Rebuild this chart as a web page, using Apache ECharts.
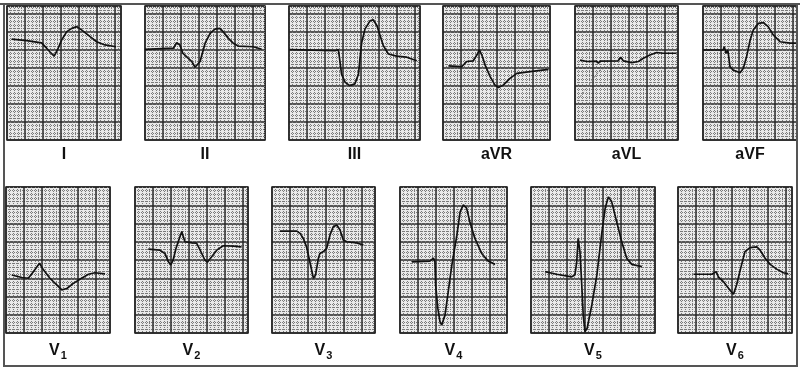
<!DOCTYPE html>
<html>
<head>
<meta charset="utf-8">
<script src="https://cdn.jsdelivr.net/npm/echarts@6/dist/echarts.min.js"></script>
<style>
html,body{margin:0;padding:0;background:#fff;}
#c{width:800px;height:370px;}
</style>
</head>
<body>
<div id="c"></div>
<script>
// ECG traces: [time (mm of paper), amplitude (mm of paper)]
const leadI = [[1.3,28.0],[5.5,27.6],[9.6,27.0],[11.0,25.5],[11.9,24.5],[13.1,23.3],[14.0,25.0],[15.2,27.8],[16.6,30.1],[18.0,31.0],[19.4,31.5],[20.7,30.6],[23.1,28.7],[24.9,27.3],[27.2,26.4],[30.3,25.9]];
const leadII = [[0,25.2],[7.9,25.5],[8.8,27.0],[9.7,26.4],[10.5,24.1],[11.6,23.1],[13.0,21.8],[13.9,20.2],[14.4,19.9],[15.3,21.8],[16.7,26.9],[18.1,29.6],[19.4,30.8],[20.8,31.0],[21.7,30.1],[23.1,28.3],[24.5,26.9],[25.9,26.1],[30.1,25.9],[32.4,25.2]];
const leadIII = [[0.1,25.1],[12.8,24.8],[13.7,25.1],[14.0,23.0],[14.6,18.3],[15.6,16.0],[16.9,15.1],[18.3,15.6],[19.3,18.3],[19.7,22.5],[20.2,27.1],[21.1,30.8],[22.5,33.1],[23.4,33.4],[24.4,31.8],[25.3,29.0],[26.2,26.2],[27.6,23.9],[29.9,23.3],[32.7,23.0],[35.5,22.0]];
const leadAVR = [[1.5,20.6],[5.2,20.4],[5.6,19.9],[6.6,21.8],[8.4,22.0],[9.4,23.6],[10.1,25.0],[10.8,23.6],[11.7,20.8],[13.1,17.6],[14.4,15.3],[15.4,14.6],[16.8,15.3],[18.6,17.1],[20.5,18.5],[24.2,19.0],[29.3,19.6]];
const leadAVL = [[1.4,22.2],[3.3,21.8],[6.0,21.9],[6.5,21.3],[6.9,21.9],[12.0,22.0],[12.7,23.0],[13.4,22.0],[15.8,21.5],[17.6,21.8],[19.0,22.7],[20.8,23.6],[22.7,24.3],[24.5,24.1],[28.2,24.1]];
const leadAVLArtifact = [[1.4,12.0],[4.0,15.6],[6.9,19.4],[9.7,20.6]];
const leadAVF = [[0.1,25.0],[5.6,25.0],[5.9,25.9],[6.4,24.1],[6.9,25.0],[7.5,20.4],[8.4,19.4],[10.3,18.7],[11.2,19.9],[12.1,23.1],[13.1,27.8],[14.0,30.6],[15.4,32.4],[16.8,32.6],[18.1,31.5],[19.5,29.2],[21.4,27.3],[24.2,26.9],[26.1,26.9]];
const leadV1 = [[1.6,15.9],[4.4,15.2],[6.2,15.0],[7.6,16.8],[9.3,19.1],[10.4,17.3],[12.2,15.0],[14.1,13.2],[15.5,11.8],[16.9,12.2],[18.7,13.6],[21.0,15.0],[22.9,16.1],[24.7,16.5],[27.5,16.2]];
const leadV2 = [[3.7,23.0],[6.9,22.7],[8.3,21.8],[9.3,19.5],[9.9,18.6],[10.6,20.0],[11.4,23.2],[12.0,25.0],[13.0,27.8],[13.4,26.4],[13.9,25.0],[15.8,24.7],[17.1,24.6],[18.1,22.7],[19.4,20.0],[20.1,19.4],[21.3,20.9],[22.7,22.7],[24.5,23.9],[27.3,23.8],[29.6,23.6]];
const leadV3 = [[2.2,27.9],[6.9,27.9],[7.8,27.3],[8.7,25.9],[9.6,23.6],[10.6,19.1],[11.5,15.0],[12.1,15.9],[12.9,20.5],[13.3,21.8],[14.3,22.3],[15.2,23.2],[16.1,26.8],[17.0,29.1],[18.0,29.6],[18.9,28.2],[19.8,25.5],[20.8,25.0],[23.5,24.7],[25.4,24.1]];
const leadV4 = [[3.3,19.5],[8.3,19.7],[9.3,20.5],[9.7,19.5],[9.9,13.2],[10.5,6.8],[11.1,3.1],[11.6,2.2],[12.5,4.9],[13.4,11.3],[14.4,18.6],[15.8,26.8],[16.7,33.2],[17.6,35.1],[18.5,34.2],[19.4,30.5],[20.8,25.9],[22.7,21.8],[24.5,19.7],[26.4,18.8]];
const leadV5 = [[3.9,16.8],[7.1,16.1],[11.3,15.4],[12.2,15.9],[12.7,19.5],[13.1,25.9],[13.6,22.3],[14.1,13.2],[14.5,4.9],[15.0,0.4],[15.6,1.3],[16.9,7.7],[18.3,15.9],[19.6,26.8],[20.6,34.2],[21.5,37.3],[22.4,36.0],[23.8,30.5],[25.2,25.0],[26.6,20.5],[28.0,18.8],[30.8,18.2]];
const leadV6 = [[4.3,16.1],[9.4,16.1],[10.6,16.8],[11.2,15.4],[12.6,14.1],[14.4,11.8],[15.4,10.6],[16.3,13.2],[17.4,17.7],[18.6,22.3],[20.0,23.4],[21.9,23.6],[22.8,22.7],[24.2,20.5],[25.6,18.8],[27.4,17.5],[29.3,16.5],[30.6,16.2]];

const leadNames = ['I','II','III','aVR','aVL','aVF','{v|V}{s|1}','{v|V}{s|2}','{v|V}{s|3}','{v|V}{s|4}','{v|V}{s|5}','{v|V}{s|6}'];
const leadData = [leadI,leadII,leadIII,leadAVR,leadAVL,leadAVF,leadV1,leadV2,leadV3,leadV4,leadV5,leadV6];

// layout (pixels)
const layout = [
  {left:7,width:114,top:6,height:134},
  {left:145,width:120,top:6,height:134},
  {left:289,width:131,top:6,height:134},
  {left:443,width:107,top:6,height:134},
  {left:575,width:103,top:6,height:134},
  {left:703,width:94,top:6,height:134},
  {left:6,width:104,top:187,height:146},
  {left:135,width:113,top:187,height:146},
  {left:272,width:103,top:187,height:146},
  {left:400,width:107,top:187,height:146},
  {left:531,width:124,top:187,height:146},
  {left:678,width:114,top:187,height:146}
];
const pxPerMmX = 3.6;
const rowMmY = [134/3.6, 40];

const FONT = '"Liberation Sans", Arial, sans-serif';
const grids = [], xAxes = [], yAxes = [], series = [];
layout.forEach((g, i) => {
  const bottomRow = i >= 6;
  grids.push({left:g.left, top:g.top, width:g.width, height:g.height, show:true,
    backgroundColor:'#e9e9e9', borderColor:'#222', borderWidth:1.5});
  const major = {show:true, lineStyle:{color:'#262626', width:1.5}};
  const minor = {show:true, lineStyle:{color:'#7a7a7a', width:1, type:[1,1]}};
  xAxes.push({gridIndex:i, type:'value', min:0, max:g.width/pxPerMmX, interval:5,
    axisLine:{show:false}, axisTick:{show:false}, axisLabel:{show:false},
    splitLine:major, minorTick:{show:false, splitNumber:5}, minorSplitLine:minor,
    name:leadNames[i], nameLocation:'middle', nameGap: bottomRow ? 8 : 7,
    nameTextStyle:{color:'#111', fontSize:16, fontWeight:'bold', fontFamily:FONT,
      verticalAlign:'top',
      rich:{v:{fontSize:16, fontWeight:'bold', fontFamily:FONT, color:'#111'},
            s:{fontSize:11, fontWeight:'bold', fontFamily:FONT, color:'#111', padding:[9,0,0,1]}}}
  });
  yAxes.push({gridIndex:i, type:'value', min:0, max: bottomRow ? rowMmY[1] : rowMmY[0], interval:5,
    axisLine:{show:false}, axisTick:{show:false}, axisLabel:{show:false},
    splitLine:major, minorTick:{show:false, splitNumber:5}, minorSplitLine:minor});
  series.push({type:'line', xAxisIndex:i, yAxisIndex:i, data:leadData[i], symbol:'none',
    smooth:false, lineStyle:{color:'#111', width:1.7}, silent:true, animation:false});
});
series.push({type:'line', xAxisIndex:4, yAxisIndex:4, data:leadAVLArtifact, symbol:'none',
  lineStyle:{color:'#666', width:1, type:[2,2]}, silent:true, animation:false});

const chart = echarts.init(document.getElementById('c'), null, {renderer:'canvas'});
chart.setOption({
  backgroundColor:'#fff',
  animation:false,
  grid:grids, xAxis:xAxes, yAxis:yAxes, series:series,
  graphic:[
    {type:'rect', shape:{x:4, y:4, width:793, height:362},
      style:{fill:'none', stroke:'#555', lineWidth:2}, z:100},
    {type:'line', shape:{x1:0, y1:4, x2:800, y2:4},
      style:{stroke:'#555', lineWidth:2}, z:100}
  ]
});
</script>
</body>
</html>
